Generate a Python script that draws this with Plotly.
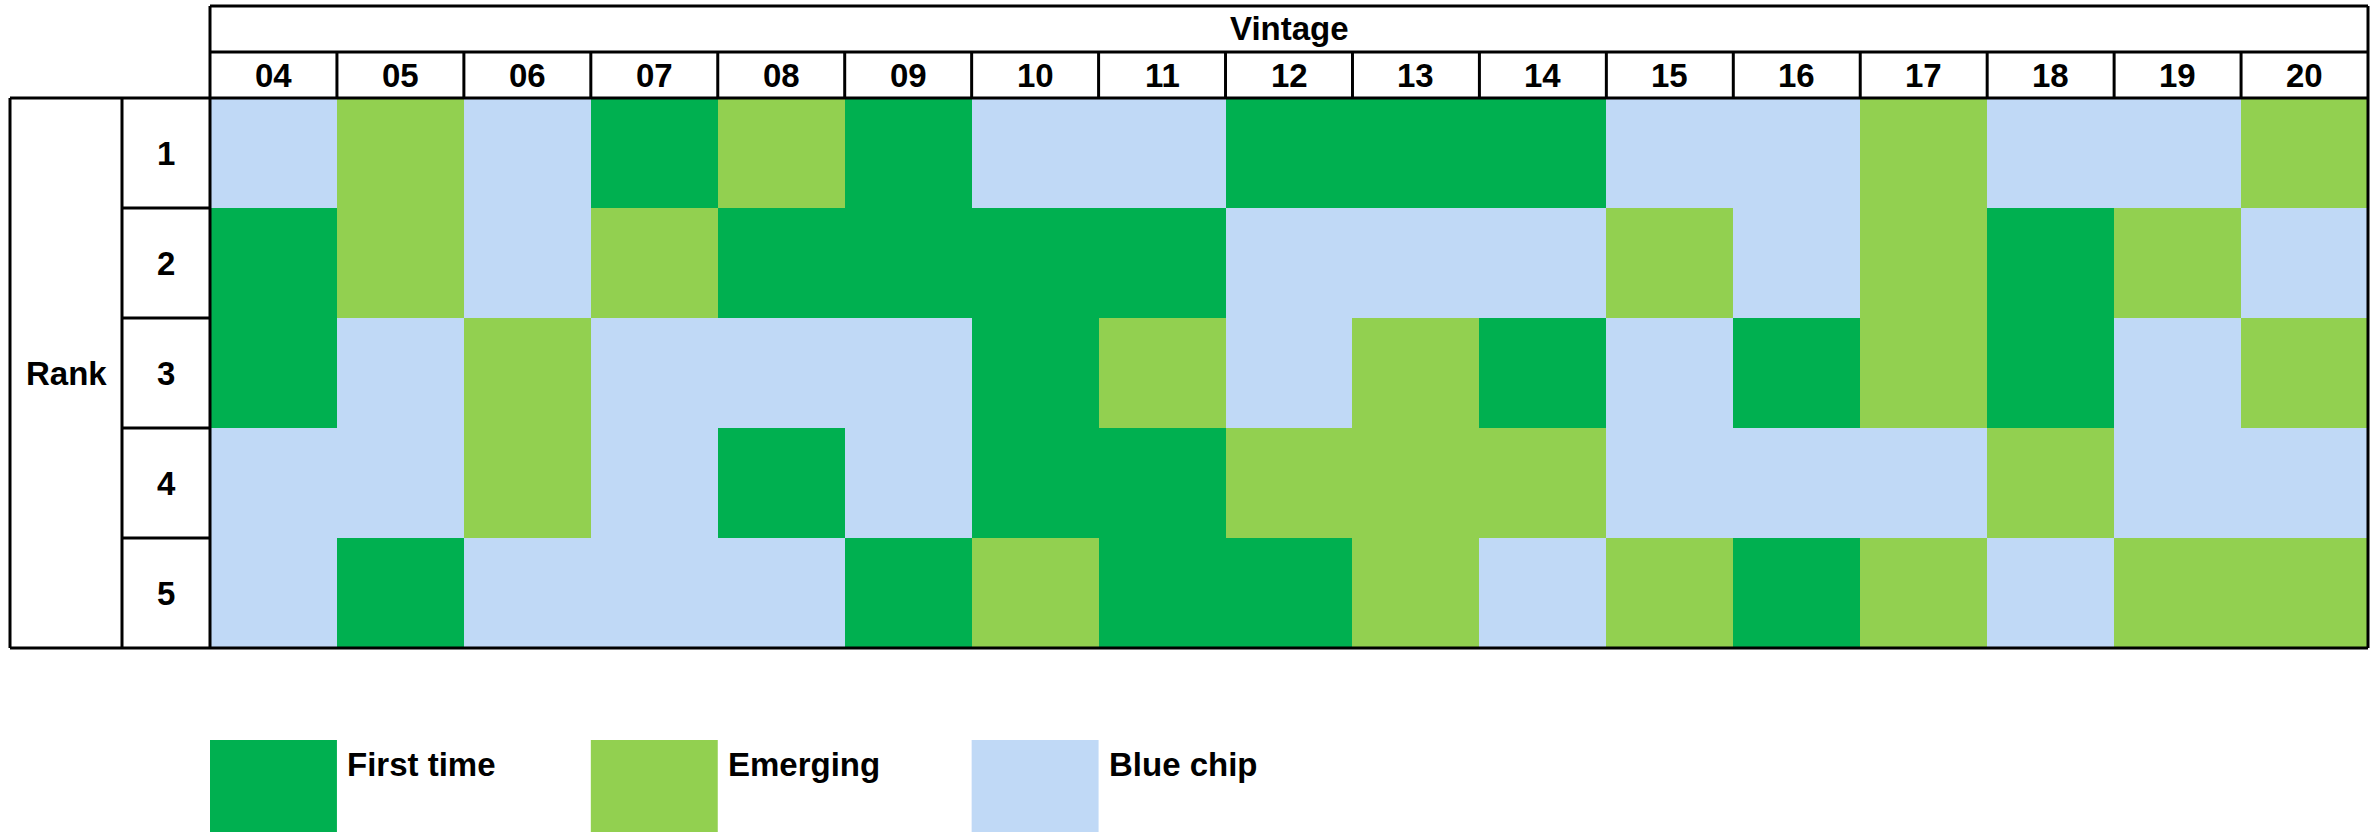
import plotly.graph_objects as go

# Vintage years (columns) and rank positions (rows)
vintages = ["04", "05", "06", "07", "08", "09", "10", "11", "12",
            "13", "14", "15", "16", "17", "18", "19", "20"]
ranks = [1, 2, 3, 4, 5]

# Category names and fill colours
categories = ["First time", "Emerging", "Blue chip"]
cat_colors = ["#00B050", "#92D050", "#C0D9F6"]

# Manager type per rank (F = First time, E = Emerging, B = Blue chip)
rank1 = ["B", "E", "B", "F", "E", "F", "B", "B", "F", "F", "F", "B", "B", "E", "B", "B", "E"]
rank2 = ["F", "E", "B", "E", "F", "F", "F", "F", "B", "B", "B", "E", "B", "E", "F", "E", "B"]
rank3 = ["F", "B", "E", "B", "B", "B", "F", "E", "B", "E", "F", "B", "F", "E", "F", "B", "E"]
rank4 = ["B", "B", "E", "B", "F", "B", "F", "F", "E", "E", "E", "B", "B", "B", "E", "B", "B"]
rank5 = ["B", "F", "B", "B", "B", "F", "E", "F", "F", "E", "B", "E", "F", "E", "B", "E", "E"]

code_index = {"F": 0, "E": 1, "B": 2}
rows = [rank1, rank2, rank3, rank4, rank5]
z = [[code_index[c] for c in row] for row in rows]
hover = [[categories[code_index[c]] for c in row] for row in rows]

# Page geometry (pixels)
W, H = 2379, 832
L, R, T, B = 210, 11, 98, 184
PW, PH = W - L - R, H - T - B

def px(x):
    return (x - L) / PW

def py(y):
    return (H - B - y) / PH

ncol = len(vintages)
nrow = len(ranks)

def col_edge(i):
    return i / ncol

def row_edge(j):
    return 1 - j / nrow

colorscale = []
for k, col in enumerate(cat_colors):
    colorscale.append([k / len(cat_colors), col])
    colorscale.append([(k + 1) / len(cat_colors), col])

fig = go.Figure(go.Heatmap(
    z=z, x=vintages, y=ranks, zmin=-0.5, zmax=2.5,
    colorscale=colorscale, showscale=False, xgap=0, ygap=0,
    text=hover, hovertemplate="Vintage %{x}<br>Rank %{y}<br>%{text}<extra></extra>",
))

font_family = "Liberation Sans, Arial, sans-serif"
fsize = 33

fig.update_layout(
    width=W, height=H,
    margin=dict(l=L, r=R, t=T, b=B, pad=0),
    paper_bgcolor="white", plot_bgcolor="white",
    xaxis=dict(visible=False, type="category", categoryorder="array",
               categoryarray=vintages, range=[-0.5, ncol - 0.5], fixedrange=True),
    yaxis=dict(visible=False, range=[nrow + 0.5, 0.5], fixedrange=True),
    font=dict(family=font_family, size=fsize, color="black"),
    showlegend=False,
)

lw = 3
shapes = []

def line(x0, y0, x1, y1):
    shapes.append(dict(type="line", xref="paper", yref="paper",
                       x0=x0, y0=y0, x1=x1, y1=y1,
                       line=dict(color="black", width=lw), layer="above"))

# Header box: "Vintage" row and year row
y_top, y_mid = py(6), py(52)
line(0, y_top, 1, y_top)
line(0, y_mid, 1, y_mid)
line(0, y_top, 0, 1)
line(1, y_top, 1, 1)
for i in range(1, ncol):
    line(col_edge(i), y_mid, col_edge(i), 1)

# Grid frame
x_out, x_rank = px(10), px(122)
line(x_out, 1, 1, 1)
line(x_out, 0, 1, 0)
line(1, 0, 1, 1)
line(0, 0, 0, 1)
line(x_out, 0, x_out, 1)
line(x_rank, 0, x_rank, 1)
for j in range(1, nrow):
    line(x_rank, row_edge(j), 0, row_edge(j))

annotations = []

def label(text, x, y, xref="paper", yref="paper", xanchor="center", xshift=0):
    annotations.append(dict(text=text, x=x, y=y, xref=xref, yref=yref,
                            showarrow=False, xanchor=xanchor, yanchor="middle",
                            xshift=xshift,
                            font=dict(family=font_family, size=fsize,
                                      color="black", weight="bold")))

label("Vintage", 0.5, py(29))
for i, v in enumerate(vintages):
    label(v, (i + 0.5) / ncol, py(75))
for r in ranks:
    label(str(r), px(166), r, yref="y")
label("Rank", px(66), 3, yref="y")

# Legend: swatches under the 04, 07 and 10 columns
legend_cols = [0, 3, 6]
for k, (name, col) in enumerate(zip(categories, cat_colors)):
    c = legend_cols[k]
    shapes.append(dict(type="rect", xref="paper", yref="paper",
                       x0=col_edge(c), x1=col_edge(c + 1),
                       y0=py(740), y1=py(850),
                       fillcolor=col, line=dict(width=0), layer="above"))
    label(name, col_edge(c + 1), py(764), xanchor="left", xshift=8)

fig.update_layout(shapes=shapes, annotations=annotations)
fig.write_html("out.html")
